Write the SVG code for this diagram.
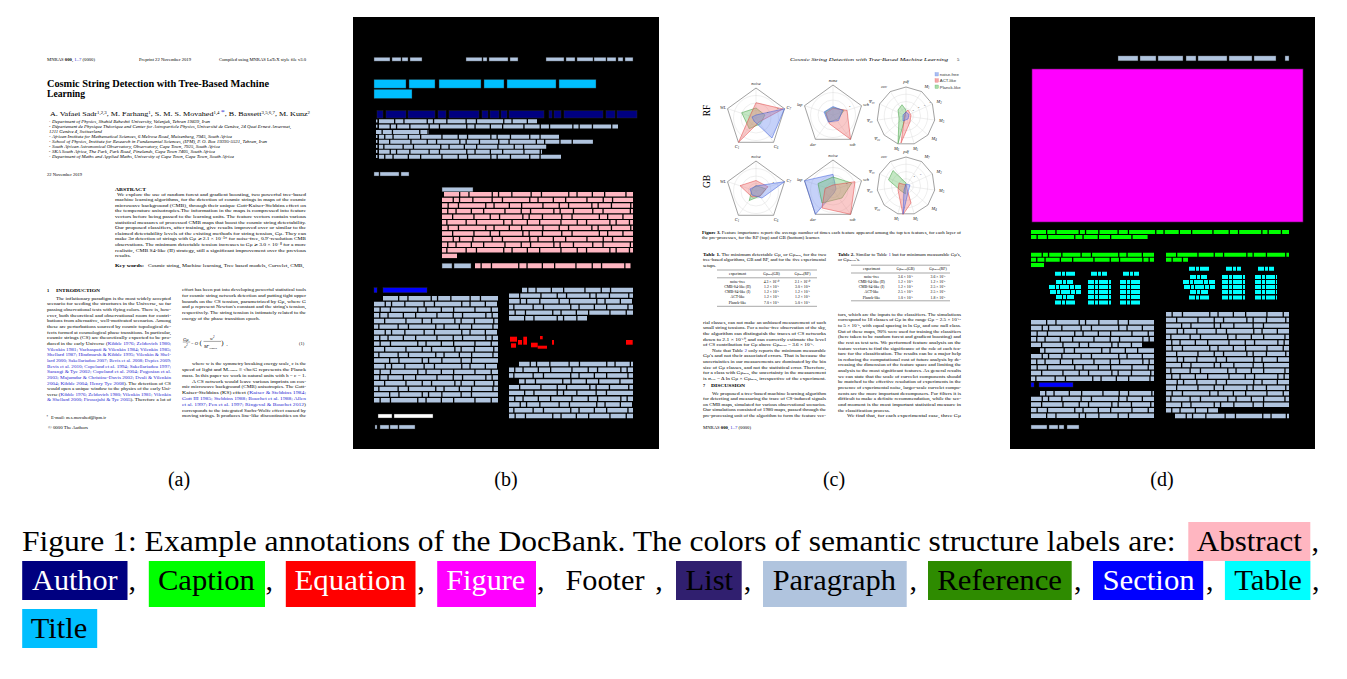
<svg xmlns="http://www.w3.org/2000/svg" width="1347" height="679" viewBox="0 0 1347 679">
<defs>
<style>
.s{font-family:"Liberation Serif","Times New Roman",serif;fill:#000}
.ss{font-family:"Liberation Sans",Arial,sans-serif;fill:#333}
.b{font-weight:bold}
.i{font-style:italic}
.lk{fill:#2525d0}
.t{font-size:4.4px}
.af{font-size:3.6px;font-style:italic}
.ct{font-size:4.2px}
.tb{font-size:3.8px;text-anchor:middle}
.ax{font-size:4.4px;font-style:italic;fill:#222}
.tk{font-size:2.8px;fill:#555}
.bar{fill:none;stroke-width:4.4;stroke-dasharray:15 1.3 8 1.3 22 1.3 5 1.3 12 1.3 18 1.3 9 1.3 26 1.3 7 1.3 14 1.3 11 1.3 20 1.3}
.P{stroke:#B0C4DE}.K{stroke:#FFB6C1}.G{stroke:#00FF00}.C{stroke:#00FFFF}
.o1{stroke-dashoffset:37}.o2{stroke-dashoffset:81}.o3{stroke-dashoffset:119}.o4{stroke-dashoffset:150}.o5{stroke-dashoffset:63}
.ol{stroke:#2a2a2a;stroke-width:.4}
.grid{fill:none;stroke:#d2d2d2;stroke-width:.35}
.frame{fill:none;stroke:#555;stroke-width:.55}
.nf{fill:#6f8cf0;fill-opacity:.4;stroke:#3b5bdb;stroke-width:.5}
.ac{fill:#f07878;fill-opacity:.4;stroke:#e04040;stroke-width:.5}
.pl{fill:#6cc36c;fill-opacity:.4;stroke:#3a9a3a;stroke-width:.5}
.cap{font-family:"Liberation Serif","Times New Roman",serif;font-size:30px;fill:#000}
.w{fill:#fff}
.lbl{font-family:"Liberation Serif","Times New Roman",serif;font-size:20px;text-anchor:middle;fill:#000}
.rule{stroke:#000;stroke-width:.35}
</style>
</defs>
<rect width="1347" height="679" fill="#fff"/>

<!-- ============ PANEL A : original page 1 ============ -->
<g id="panel-a" class="s">
<text class="t" x="47" y="61.2" font-size="4.3" textLength="48" lengthAdjust="spacingAndGlyphs">MNRAS <tspan class="b">000</tspan>, <tspan class="lk">1–7</tspan> (0000)</text>
<text class="t" x="139" y="61.2" textLength="52" lengthAdjust="spacingAndGlyphs">Preprint 22 November 2019</text>
<text class="t" x="219" y="61.2" textLength="87" lengthAdjust="spacingAndGlyphs">Compiled using MNRAS LaTeX style file v3.0</text>
<text class="b" x="47" y="86.5" font-size="10" textLength="222" lengthAdjust="spacingAndGlyphs">Cosmic String Detection with Tree-Based Machine</text>
<text class="b" x="47" y="96.8" font-size="10" textLength="38" lengthAdjust="spacingAndGlyphs">Learning</text>
<text x="50" y="116.3" font-size="6.6" textLength="260" lengthAdjust="spacingAndGlyphs">A. Vafaei Sadr<tspan font-size="4" dy="-2.2">1,2,3</tspan><tspan dy="2.2">, M. Farhang</tspan><tspan font-size="4" dy="-2.2">1</tspan><tspan dy="2.2">, S. M. S. Movahed</tspan><tspan font-size="4" dy="-2.2">1,4 </tspan><tspan class="lk" dy="0">*</tspan><tspan dy="2.2">, B. Bassett</tspan><tspan font-size="4" dy="-2.2">3,5,6,7</tspan><tspan dy="2.2">, M. Kunz</tspan><tspan font-size="4" dy="-2.2">2</tspan></text>
<g class="af">
<text x="49" y="121.6" font-size="2.6">1</text><text x="52" y="122.6" textLength="158" lengthAdjust="spacingAndGlyphs">Department of Physics, Shahid Beheshti University, Velenjak, Tehran 19839, Iran</text>
<text x="49" y="126.8" font-size="2.6">2</text><text x="52" y="127.8" textLength="239" lengthAdjust="spacingAndGlyphs">Département de Physique Théorique and Center for Astroparticle Physics, Université de Genève, 24 Quai Ernest Ansermet,</text>
<text x="49" y="133.3" textLength="53" lengthAdjust="spacingAndGlyphs">1211 Genève 4, Switzerland</text>
<text x="49" y="137.2" font-size="2.6">3</text><text x="52" y="138.2" textLength="180" lengthAdjust="spacingAndGlyphs">African Institute for Mathematical Sciences, 6 Melrose Road, Muizenberg, 7945, South Africa</text>
<text x="49" y="142" font-size="2.6">4</text><text x="52" y="143" textLength="215" lengthAdjust="spacingAndGlyphs">School of Physics, Institute for Research in Fundamental Sciences, (IPM), P. O. Box 19395-5531, Tehran, Iran</text>
<text x="49" y="147" font-size="2.6">5</text><text x="52" y="148" textLength="168" lengthAdjust="spacingAndGlyphs">South African Astronomical Observatory, Observatory, Cape Town, 7925, South Africa</text>
<text x="49" y="152" font-size="2.6">6</text><text x="52" y="153" textLength="163" lengthAdjust="spacingAndGlyphs">SKA South Africa, The Park, Park Road, Pinelands, Cape Town 7405, South Africa</text>
<text x="49" y="157.2" font-size="2.6">7</text><text x="52" y="158.2" textLength="182" lengthAdjust="spacingAndGlyphs">Department of Maths and Applied Maths, University of Cape Town, Cape Town, South Africa</text>
</g>
<text class="t" x="47" y="176" textLength="35" lengthAdjust="spacingAndGlyphs">22 November 2019</text>
<text class="t b" x="115" y="191.4" textLength="31" lengthAdjust="spacingAndGlyphs">ABSTRACT</text>
<g class="t">
<text x="117" y="195.6" textLength="189" lengthAdjust="spacingAndGlyphs">We explore the use of random forest and gradient boosting, two powerful tree-based</text>
<text x="115" y="201.2" textLength="191" lengthAdjust="spacingAndGlyphs">machine learning algorithms, for the detection of cosmic strings in maps of the cosmic</text>
<text x="115" y="206.8" textLength="191" lengthAdjust="spacingAndGlyphs">microwave background (CMB), through their unique Gott-Kaiser-Stebbins effect on</text>
<text x="115" y="212.4" textLength="191" lengthAdjust="spacingAndGlyphs">the temperature anisotropies.The information in the maps is compressed into feature</text>
<text x="115" y="218" textLength="191" lengthAdjust="spacingAndGlyphs">vectors before being passed to the learning units. The feature vectors contain various</text>
<text x="115" y="223.6" textLength="191" lengthAdjust="spacingAndGlyphs">statistical measures of processed CMB maps that boost the cosmic string detectability.</text>
<text x="115" y="229.2" textLength="191" lengthAdjust="spacingAndGlyphs">Our proposed classifiers, after training, give results improved over or similar to the</text>
<text x="115" y="234.8" textLength="191" lengthAdjust="spacingAndGlyphs">claimed detectability levels of the existing methods for string tension, Gμ. They can</text>
<text x="115" y="240.4" textLength="191" lengthAdjust="spacingAndGlyphs">make 3σ detection of strings with Gμ ≳ 2.1 × 10⁻¹⁰ for noise-free, 0.9′-resolution CMB</text>
<text x="115" y="246" textLength="191" lengthAdjust="spacingAndGlyphs">observations. The minimum detectable tension increases to Gμ ≳ 3.0 × 10⁻⁸ for a more</text>
<text x="115" y="251.6" textLength="191" lengthAdjust="spacingAndGlyphs">realistic, CMB S4-like (II) strategy, still a significant improvement over the previous</text>
<text x="115" y="257.2" textLength="16" lengthAdjust="spacingAndGlyphs">results.</text>
</g>
<text class="t b" x="115" y="267.3" textLength="29" lengthAdjust="spacingAndGlyphs">Key words:</text>
<text class="t" x="148" y="267.3" textLength="156" lengthAdjust="spacingAndGlyphs">Cosmic string, Machine learning, Tree based models, Curvelet, CMB,</text>
<text class="t b" x="47" y="292.2">1</text>
<text class="t b" x="56" y="292.2" textLength="44" lengthAdjust="spacingAndGlyphs">INTRODUCTION</text>
<g class="t">
<text x="56" y="299.6" textLength="115" lengthAdjust="spacingAndGlyphs">The inflationary paradigm is the most widely accepted</text>
<text x="47" y="305.26" textLength="124" lengthAdjust="spacingAndGlyphs">scenario for seeding the structures in the Universe, so far</text>
<text x="47" y="310.92" textLength="124" lengthAdjust="spacingAndGlyphs">passing observational tests with flying colors. There is, how-</text>
<text x="47" y="316.58" textLength="124" lengthAdjust="spacingAndGlyphs">ever, both theoretical and observational room for contri-</text>
<text x="47" y="322.24" textLength="124" lengthAdjust="spacingAndGlyphs">butions from alternative, well-motivated scenarios. Among</text>
<text x="47" y="327.9" textLength="124" lengthAdjust="spacingAndGlyphs">these are perturbations sourced by cosmic topological de-</text>
<text x="47" y="333.56" textLength="124" lengthAdjust="spacingAndGlyphs">fects formed at cosmological phase transitions. In particular,</text>
<text x="47" y="339.22" textLength="124" lengthAdjust="spacingAndGlyphs">cosmic strings (CS) are theoretically expected to be pro-</text>
<text x="47" y="344.88" textLength="124" lengthAdjust="spacingAndGlyphs">duced in the early Universe (<tspan class="lk">Kibble 1976; Zeldovich 1980;</tspan></text>
<text class="lk" x="47" y="350.54" textLength="124" lengthAdjust="spacingAndGlyphs">Vilenkin 1981; Vachaspati &amp; Vilenkin 1984; Vilenkin 1985;</text>
<text class="lk" x="47" y="356.2" textLength="124" lengthAdjust="spacingAndGlyphs">Shellard 1987; Hindmarsh &amp; Kibble 1995; Vilenkin &amp; Shel-</text>
<text class="lk" x="47" y="361.86" textLength="124" lengthAdjust="spacingAndGlyphs">lard 2000; Sakellariadou 2007; Bevis et al. 2008; Depies 2009;</text>
<text class="lk" x="47" y="367.52" textLength="124" lengthAdjust="spacingAndGlyphs">Bevis et al. 2010; Copeland et al. 1994; Sakellariadou 1997;</text>
<text class="lk" x="47" y="373.18" textLength="124" lengthAdjust="spacingAndGlyphs">Sarangi &amp; Tye 2002; Copeland et al. 2004; Pogosian et al.</text>
<text class="lk" x="47" y="378.84" textLength="124" lengthAdjust="spacingAndGlyphs">2003; Majumdar &amp; Christine-Davis 2002; Dvali &amp; Vilenkin</text>
<text x="47" y="384.5" textLength="124" lengthAdjust="spacingAndGlyphs"><tspan class="lk">2004; Kibble 2004; Henry Tye 2008</tspan>). The detection of CS</text>
<text x="47" y="390.16" textLength="124" lengthAdjust="spacingAndGlyphs">would open a unique window to the physics of the early Uni-</text>
<text x="47" y="395.82" textLength="124" lengthAdjust="spacingAndGlyphs">verse (<tspan class="lk">Kibble 1976; Zeldovich 1980; Vilenkin 1981; Vilenkin</tspan></text>
<text x="47" y="401.48" textLength="124" lengthAdjust="spacingAndGlyphs"><tspan class="lk">&amp; Shellard 2000; Firouzjahi &amp; Tye 2005</tspan>). Therefore a lot of</text>
</g>
<g class="t">
<text x="182" y="291.3" textLength="124" lengthAdjust="spacingAndGlyphs">effort has been put into developing powerful statistical tools</text>
<text x="182" y="296.96" textLength="124" lengthAdjust="spacingAndGlyphs">for cosmic string network detection and putting tight upper</text>
<text x="182" y="302.62" textLength="124" lengthAdjust="spacingAndGlyphs">bounds on the CS tension, parametrized by Gμ, where G</text>
<text x="182" y="308.28" textLength="124" lengthAdjust="spacingAndGlyphs">and μ represent Newton's constant and the string's tension,</text>
<text x="182" y="313.94" textLength="124" lengthAdjust="spacingAndGlyphs">respectively. The string tension is intimately related to the</text>
<text x="182" y="319.6" textLength="78" lengthAdjust="spacingAndGlyphs">energy of the phase transition epoch.</text>
</g>
<g id="equation-1">
<text class="i" x="183" y="340.6" font-size="4.5">Gμ</text>
<line x1="182.8" y1="342" x2="190.2" y2="342" stroke="#000" stroke-width=".35"/>
<text class="i" x="184.3" y="347.5" font-size="4.5">c<tspan font-size="3" dy="-1.6">2</tspan></text>
<text x="191" y="344.5" font-size="4.5">= <tspan class="i">O</tspan></text>
<text x="199.5" y="345" font-size="7">(</text>
<text class="i" x="210" y="339.8" font-size="4.5">w<tspan font-size="3" dy="-1.6">2</tspan></text>
<line x1="203.5" y1="341.4" x2="221" y2="341.4" stroke="#000" stroke-width=".35"/>
<text class="i" x="204" y="347.6" font-size="4.5">M<tspan font-size="2.8" dy="-1.8">2</tspan><tspan font-size="2.8" dy="2.8">Planck</tspan></text>
<text x="221.3" y="345" font-size="7">)</text>
<text x="226.5" y="344.5" font-size="4.5">,</text>
<text x="299" y="344.5" font-size="4.5">(1)</text>
</g>
<g class="t">
<text x="192" y="365.3" textLength="114" lengthAdjust="spacingAndGlyphs">where w is the symmetry breaking energy scale, c is the</text>
<text x="182" y="371.1" textLength="124" lengthAdjust="spacingAndGlyphs">speed of light and M<tspan font-size="2.8">Planck</tspan> ≡ √ħc/G represents the Planck</text>
<text x="182" y="376.9" textLength="124" lengthAdjust="spacingAndGlyphs">mass. In this paper we work in natural units with ħ = c = 1.</text>
<text x="192" y="382.6" textLength="114" lengthAdjust="spacingAndGlyphs">A CS network would leave various imprints on cos-</text>
<text x="182" y="388.4" textLength="124" lengthAdjust="spacingAndGlyphs">mic microwave background (CMB) anisotropies. The Gott-</text>
<text x="182" y="394.2" textLength="124" lengthAdjust="spacingAndGlyphs">Kaiser-Stebbins (KS) effect (<tspan class="lk">Kaiser &amp; Stebbins 1984;</tspan></text>
<text class="lk" x="182" y="400" textLength="124" lengthAdjust="spacingAndGlyphs">Gott III 1985; Stebbins 1988; Bouchet et al. 1988; Allen</text>
<text x="182" y="405.8" textLength="124" lengthAdjust="spacingAndGlyphs"><tspan class="lk">et al. 1997; Pen et al. 1997; Ringeval &amp; Bouchet 2012</tspan>)</text>
<text x="182" y="411.5" textLength="124" lengthAdjust="spacingAndGlyphs">corresponds to the integrated Sachs-Wolfe effect caused by</text>
<text x="182" y="417.3" textLength="124" lengthAdjust="spacingAndGlyphs">moving strings. It produces line-like discontinuities on the</text>
</g>
<text x="46.5" y="417.5" font-size="3.2">*</text>
<text class="t" x="51" y="418.5" textLength="55" lengthAdjust="spacingAndGlyphs">E-mail: m.s.movahed@ipm.ir</text>
<text class="t" x="48" y="429" textLength="40" lengthAdjust="spacingAndGlyphs">© 0000 The Authors</text>
</g>

<!-- ============ PANEL B : annotation of page 1 ============ -->
<g id="panel-b">
<rect x="353" y="17" width="306" height="432" fill="#000"/>
<g fill="#B0C4DE" class="ol">
<rect x="374" y="57.3" width="16" height="3.8"/><rect x="392" y="57.3" width="9" height="3.8"/><rect x="402" y="57.3" width="6" height="3.8"/><rect x="410" y="57.3" width="12" height="3.8"/>
<rect x="466" y="57.3" width="16" height="3.8"/><rect x="483" y="57.3" width="4" height="3.8"/><rect x="489" y="57.3" width="19" height="3.8"/><rect x="510" y="57.3" width="8" height="3.8"/>
<rect x="546" y="57.3" width="18" height="3.8"/><rect x="566" y="57.3" width="9" height="3.8"/><rect x="577" y="57.3" width="16" height="3.8"/><rect x="594" y="57.3" width="12" height="3.8"/><rect x="607" y="57.3" width="9" height="3.8"/><rect x="618" y="57.3" width="5" height="3.8"/><rect x="625" y="57.3" width="8" height="3.8"/>
</g>
<g fill="#00BFFF" class="ol">
<rect x="374" y="79.5" width="32" height="8.6"/><rect x="409" y="79.5" width="26" height="8.6"/><rect x="439" y="79.5" width="42" height="8.6"/><rect x="484" y="79.5" width="20" height="8.6"/><rect x="507" y="79.5" width="49" height="8.6"/><rect x="559" y="79.5" width="37" height="8.6"/>
<rect x="374" y="89.3" width="38" height="9.2"/>
</g>
<g fill="#000080" class="ol">
<rect x="377" y="110.7" width="6" height="7.3"/><rect x="386" y="110.7" width="20" height="7.3"/><rect x="408" y="110.7" width="27" height="7.3"/><rect x="438" y="110.7" width="8" height="7.3"/><rect x="449" y="110.7" width="30" height="7.3"/><rect x="482" y="110.7" width="6" height="7.3"/><rect x="490" y="110.7" width="9" height="7.3"/><rect x="501" y="110.7" width="6" height="7.3"/><rect x="509" y="110.7" width="35" height="7.3"/><rect x="549" y="110.7" width="3" height="7.3"/><rect x="554" y="110.7" width="7" height="7.3"/><rect x="564" y="110.7" width="39" height="7.3"/><rect x="606" y="110.7" width="9" height="7.3"/><rect x="617" y="110.7" width="20" height="7.3"/>
</g>
<g fill="#B0C4DE">
<rect x="376" y="119.5" width="1.4" height="3"/><rect x="376" y="124.7" width="1.4" height="3"/><rect x="376" y="135" width="1.4" height="3"/><rect x="376" y="139.9" width="1.4" height="3"/><rect x="376" y="144.9" width="1.4" height="3"/><rect x="376" y="149.9" width="1.4" height="3"/><rect x="376" y="155" width="1.4" height="3"/>
</g>
<g class="bar P" style="stroke-width:4">
<path d="M379 121.3H537"/><path class="o1" d="M379 126.5H618"/><path class="o2" d="M376 132H429"/><path class="o3" d="M379 136.8H559"/><path class="o4" d="M379 141.7H594"/><path class="o5" d="M379 146.7H547"/><path class="o1" d="M379 151.7H542"/><path class="o3" d="M379 156.8H561"/>
</g>
<g fill="#B0C4DE" class="ol">
<rect x="374" y="172" width="5" height="4"/><rect x="380" y="172" width="19" height="4"/><rect x="401" y="172" width="8" height="4"/>
<rect x="442" y="187.2" width="31" height="4.6"/>
<rect x="442" y="263.2" width="10" height="5"/><rect x="454" y="263.2" width="17" height="5"/>
</g>
<g class="bar K">
<path d="M444 194.3H633"/><path class="o1" d="M442 199.9H633"/><path class="o2" d="M442 205.5H633"/><path class="o3" d="M442 211.1H633"/><path class="o4" d="M442 216.7H633"/><path class="o5" d="M442 222.3H633"/><path class="o2" d="M442 227.9H633"/><path class="o4" d="M442 233.5H633"/><path class="o1" d="M442 239.1H633"/><path class="o3" d="M442 244.7H633"/><path class="o5" d="M442 250.3H633"/><path d="M442 255.9H458"/>
<path class="o2" style="stroke-width:5" d="M475 265.7H631"/>
</g>
<g fill="#0000FF" class="ol"><rect x="374" y="287.7" width="3" height="5"/><rect x="383" y="287.7" width="44" height="5"/></g>
<g class="bar P">
<path d="M383 298.3H498"/><path class="o1" d="M374 303.96H498"/><path class="o2" d="M374 309.62H498"/><path class="o3" d="M374 315.28H498"/><path class="o4" d="M374 320.94H498"/><path class="o5" d="M374 326.6H498"/><path class="o1" d="M374 332.26H498"/><path class="o3" d="M374 337.92H498"/><path class="o2" d="M374 343.58H498"/><path class="o4" d="M374 349.24H498"/><path class="o5" d="M374 354.9H498"/><path d="M374 360.56H498"/><path class="o1" d="M374 366.22H498"/><path class="o2" d="M374 371.88H498"/><path class="o3" d="M374 377.54H498"/><path class="o4" d="M374 383.2H498"/><path class="o5" d="M374 388.86H498"/><path d="M374 394.52H498"/><path class="o2" d="M374 400.18H498"/>
<path class="o3" d="M522 290H633"/><path class="o4" d="M509 295.66H633"/><path class="o1" d="M509 301.32H633"/><path class="o5" d="M509 306.98H633"/><path class="o2" d="M509 312.64H633"/><path d="M509 318.3H587"/>
<path class="o1" d="M519 364H633"/><path class="o3" d="M509 369.78H633"/><path class="o5" d="M509 375.56H633"/><path class="o2" d="M519 381.34H633"/><path class="o4" d="M509 387.12H633"/><path d="M509 392.9H633"/><path class="o3" d="M509 398.68H633"/><path class="o1" d="M509 404.46H633"/><path class="o5" d="M509 410.24H633"/><path class="o2" d="M509 416.02H633"/>
</g>
<g fill="#FF0000">
<rect x="510" y="336.7" width="7" height="5"/><rect x="511" y="343.3" width="5" height="4.4"/><rect x="518" y="340" width="4" height="4.7"/><rect x="523.3" y="336.7" width="3.7" height="8"/><rect x="531" y="342.7" width="6.7" height="4.6"/><rect x="537.7" y="345.7" width="9.3" height="3"/><rect x="540" y="336" width="2.7" height="3.3"/><rect x="552" y="340" width="2" height="4.7"/><rect x="626" y="340" width="6.7" height="4.7"/>
</g>
<g fill="#fff" class="ol"><rect x="378" y="414" width="14" height="4"/><rect x="394" y="414" width="39" height="4"/></g>
<g fill="#B0C4DE" class="ol"><rect x="375" y="425" width="2" height="4"/><rect x="380" y="425" width="9" height="4"/><rect x="390" y="425" width="8" height="4"/><rect x="399" y="425" width="16" height="4"/></g>
</g>

<!-- ============ PANEL C : original page 5 ============ -->
<g id="panel-c" class="s">
<text class="i" x="790" y="60.8" font-size="4.6" textLength="158" lengthAdjust="spacingAndGlyphs">Cosmic String Detection with Tree-Based Machine Learning</text>
<text x="957" y="60.8" font-size="4.6">5</text>
<text x="713" y="113.5" font-size="9.5" text-anchor="middle" transform="rotate(-90 710 113.5)">RF</text>
<text x="713" y="184.5" font-size="9.5" text-anchor="middle" transform="rotate(-90 710 184.5)">GB</text>

<g id="chart-rf-1">
<circle class="grid" cx="756" cy="118" r="7.5"/><circle class="grid" cx="756" cy="118" r="15"/><circle class="grid" cx="756" cy="118" r="22.5"/>
<path class="grid" d="M756 118V88M756 118L784.5 108.7M756 118L773.6 142.3M756 118L738.4 142.3M756 118L727.5 108.7"/>
<polygon class="frame" points="756,88 784.5,108.7 773.6,142.3 738.4,142.3 727.5,108.7"/>
<polygon class="pl" points="756,108 765,115 760,124 749.3,128.7 741.7,112.7"/>
<polygon class="ac" points="756,102.7 783,109 759,122 738.5,142.3 750,116"/>
<polygon class="nf" points="756,115 784.5,108.7 772,138 754,121 752,117"/>
<text class="tk" x="767" y="113">2</text><text class="tk" x="777" y="109">4</text>
<g class="ax"><text x="756" y="84.5" text-anchor="middle">noise</text><text x="726" y="109" text-anchor="end">WL</text><text x="786.5" y="108.5">C<tspan font-size="3" dy="1">7</tspan></text><text x="737" y="147.5" text-anchor="middle">C<tspan font-size="3" dy="1">1</tspan></text><text x="776" y="147.5" text-anchor="middle">C<tspan font-size="3" dy="1">6</tspan></text></g>
</g>
<g id="chart-rf-2">
<circle class="grid" cx="833" cy="115" r="7.5"/><circle class="grid" cx="833" cy="115" r="15"/><circle class="grid" cx="833" cy="115" r="22.5"/>
<path class="grid" d="M833 115V85M833 115L861.5 105.7M833 115L850.6 139.3M833 115L815.4 139.3M833 115L804.5 105.7"/>
<polygon class="frame" points="833,85 861.5,105.7 850.6,139.3 815.4,139.3 804.5,105.7"/>
<polygon class="pl" points="833,107.5 844,110.3 838,119 829,122 825,112"/>
<polygon class="ac" points="833,108.3 847,110.3 850.6,139.3 829.3,123.7 826,113"/>
<polygon class="nf" points="833,106.5 842.7,110.3 838.5,120.5 828.3,122 824,112"/>
<text class="tk" x="849" y="107">4</text>
<g class="ax"><text x="833" y="81.5" text-anchor="middle">none</text><text x="802.5" y="106" text-anchor="end">lap</text><text x="863" y="106">sch</text><text x="813" y="145.5" text-anchor="middle">der</text><text x="852.5" y="145.5" text-anchor="middle">sob</text></g>
</g>
<g id="chart-rf-3">
<circle class="grid" cx="906" cy="116" r="7.3"/><circle class="grid" cx="906" cy="116" r="14.5"/><circle class="grid" cx="906" cy="116" r="21.8"/>
<path class="grid" d="M906 116V87M906 116L921.7 91.6M906 116L932.4 104M906 116L934.7 120.1M906 116L927.9 135M906 116L914.2 143.8M906 116L897.8 143.8M906 116L884.1 135M906 116L877.3 120.1M906 116L879.6 104M906 116L890.3 91.6"/>
<polygon class="frame" points="906,87 921.7,91.6 932.4,104 934.7,120.1 927.9,135 914.2,143.8 897.8,143.8 884.1,135 877.3,120.1 879.6,104 890.3,91.6"/>
<polygon class="pl" points="902,104.7 906,110 905,118 898,143.5 899,118 898,110"/>
<polygon class="ac" points="908,110 911,115 910,122 901,143 904,121 905,113"/>
<polygon class="nf" points="906,112 909,114.5 908,119 903,121 903,115"/>
<text class="tk" x="912.5" y="110.5">2</text><text class="tk" x="918" y="108">4</text><text class="tk" x="924" y="105.5">6</text><text class="tk" x="929.5" y="103">8</text>
<g class="ax"><text x="906" y="83" text-anchor="middle">pdf</text><text x="924.4" y="88">M<tspan font-size="3" dy="1">1</tspan></text><text x="936.5" y="102.5">M<tspan font-size="3" dy="1">2</tspan></text><text x="939" y="122">M<tspan font-size="3" dy="1">3</tspan></text><text x="931.5" y="139.5">M<tspan font-size="3" dy="1">4</tspan></text><text x="915.5" y="150" text-anchor="middle">M<tspan font-size="3" dy="1">5</tspan></text><text x="896.5" y="150" text-anchor="middle">M<tspan font-size="3" dy="1">6</tspan></text><text x="880" y="139.5" text-anchor="end">Ψ<tspan font-size="3" dy="1">cc</tspan></text><text x="872.5" y="122" text-anchor="end">Ψ<tspan font-size="3" dy="1">cv</tspan></text><text x="874.5" y="102.5" text-anchor="end">Ψ<tspan font-size="3" dy="1">vv</tspan></text><text x="887" y="88" text-anchor="end">cov</text></g>
</g>
<g id="chart-gb-1">
<circle class="grid" cx="756" cy="191" r="7.5"/><circle class="grid" cx="756" cy="191" r="15"/><circle class="grid" cx="756" cy="191" r="22.5"/>
<path class="grid" d="M756 191V161M756 191L784.5 181.7M756 191L773.6 215.3M756 191L738.4 215.3M756 191L727.5 181.7"/>
<polygon class="frame" points="756,161 784.5,181.7 773.6,215.3 738.4,215.3 727.5,181.7"/>
<polygon class="pl" points="756,185.5 766,189 760,196 749.3,200.5 752,189"/>
<polygon class="ac" points="756,180.5 768,186.7 760,196 752,197 740,185.7"/>
<polygon class="nf" points="756,186 784.5,181.7 762,198 752,195 750,189"/>
<text class="tk" x="772.5" y="183">4</text>
<g class="ax"><text x="756" y="158" text-anchor="middle">noise</text><text x="726" y="183" text-anchor="end">WL</text><text x="786.5" y="182">C<tspan font-size="3" dy="1">7</tspan></text><text x="737" y="221" text-anchor="middle">C<tspan font-size="3" dy="1">1</tspan></text><text x="776" y="221" text-anchor="middle">C<tspan font-size="3" dy="1">6</tspan></text></g>
</g>
<g id="chart-gb-2">
<circle class="grid" cx="833" cy="190" r="7.5"/><circle class="grid" cx="833" cy="190" r="15"/><circle class="grid" cx="833" cy="190" r="22.5"/>
<path class="grid" d="M833 190V160M833 190L861.5 180.7M833 190L850.6 214.3M833 190L815.4 214.3M833 190L804.5 180.7"/>
<polygon class="frame" points="833,160 861.5,180.7 850.6,214.3 815.4,214.3 804.5,180.7"/>
<polygon class="nf" points="833,174.3 836,189 834,193 815.4,214.3 804.5,180.7"/>
<polygon class="pl" points="833,177 851.7,183 842,198 822,203 818,183.5"/>
<polygon class="ac" points="833,185 855,181.7 850.6,214.3 822,208 825,188.5"/>
<text class="tk" x="846" y="183.5">2</text>
<g class="ax"><text x="833" y="157" text-anchor="middle">noise</text><text x="802.5" y="181" text-anchor="end">lap</text><text x="863" y="181">sch</text><text x="813" y="220.5" text-anchor="middle">der</text><text x="852.5" y="220.5" text-anchor="middle">sob</text></g>
</g>
<g id="chart-gb-3">
<circle class="grid" cx="906" cy="186" r="7.3"/><circle class="grid" cx="906" cy="186" r="14.5"/><circle class="grid" cx="906" cy="186" r="21.8"/>
<path class="grid" d="M906 186V157M906 186L921.7 161.6M906 186L932.4 174M906 186L934.7 190.1M906 186L927.9 205M906 186L914.2 213.8M906 186L897.8 213.8M906 186L884.1 205M906 186L877.3 190.1M906 186L879.6 174M906 186L890.3 161.6"/>
<polygon class="frame" points="906,157 921.7,161.6 932.4,174 934.7,190.1 927.9,205 914.2,213.8 897.8,213.8 884.1,205 877.3,190.1 879.6,174 890.3,161.6"/>
<polygon class="pl" points="906,183 893,170.5 888.5,180 900,190 905.5,194"/>
<polygon class="ac" points="899,183 906,185 911,203 903,214.5 898,190"/>
<polygon class="nf" points="906,184 910,185 908,192 903,214 904,190"/>
<text class="tk" x="913.5" y="177">4</text><text class="tk" x="920" y="174.5">6</text>
<g class="ax"><text x="906" y="153" text-anchor="middle">pdf</text><text x="924.4" y="158">M<tspan font-size="3" dy="1">7</tspan></text><text x="936.5" y="172.5">M<tspan font-size="3" dy="1">2</tspan></text><text x="939" y="192">M<tspan font-size="3" dy="1">3</tspan></text><text x="931.5" y="209.5">M<tspan font-size="3" dy="1">4</tspan></text><text x="915.5" y="220" text-anchor="middle">M<tspan font-size="3" dy="1">5</tspan></text><text x="896.5" y="220" text-anchor="middle">M<tspan font-size="3" dy="1">1</tspan></text><text x="880" y="209.5" text-anchor="end">Ψ<tspan font-size="3" dy="1">cc</tspan></text><text x="872.5" y="192" text-anchor="end">Ψ<tspan font-size="3" dy="1">cv</tspan></text><text x="874.5" y="172.5" text-anchor="end">Ψ<tspan font-size="3" dy="1">vv</tspan></text><text x="887" y="158" text-anchor="end">cov</text></g>
</g>
<g id="legend">
<rect x="935" y="72.6" width="3.4" height="3.4" fill="#a9bdf2" stroke="#6f8ce0" stroke-width=".3"/>
<rect x="935" y="78.8" width="3.4" height="3.4" fill="#f4a6a6" stroke="#e06060" stroke-width=".3"/>
<rect x="935" y="85" width="3.4" height="3.4" fill="#a8dca8" stroke="#55aa55" stroke-width=".3"/>
<text class="ss" x="939.8" y="76.2" font-size="4.3">noise-free</text>
<text class="ss" x="939.8" y="82.4" font-size="4.3">ACT-like</text>
<text class="ss" x="939.8" y="88.6" font-size="4.3">Planck-like</text>
</g>

<text class="ct" x="702" y="233.5" textLength="259" lengthAdjust="spacingAndGlyphs"><tspan class="b">Figure 3.</tspan> Feature importance report: the average number of times each feature appeared among the top ten features, for each layer of</text>
<text class="ct" x="702" y="238.7" textLength="118" lengthAdjust="spacingAndGlyphs">the pre-processes, for the RF (top) and GB (bottom) learner.</text>
<text class="ct" x="703" y="256.3" textLength="123" lengthAdjust="spacingAndGlyphs"><tspan class="b">Table 1.</tspan> The minimum detectable Gμ, or Gμ<tspan font-size="2.8">min</tspan>, for the two</text>
<text class="ct" x="703" y="261.4" textLength="123" lengthAdjust="spacingAndGlyphs">tree-based algorithms, GB and RF, and for the five experimental</text>
<text class="ct" x="703" y="266.6" textLength="13" lengthAdjust="spacingAndGlyphs">setups.</text>
<text class="ct" x="838" y="256.3" textLength="123" lengthAdjust="spacingAndGlyphs"><tspan class="b">Table 2.</tspan> Similar to Table <tspan class="lk">1</tspan> but for minimum measurable Gμ's,</text>
<text class="ct" x="838" y="261.4" textLength="22" lengthAdjust="spacingAndGlyphs">or Gμ<tspan font-size="2.8">meas</tspan>'s.</text>

<g id="table-1">
<line class="rule" x1="717" y1="270" x2="817" y2="270"/><line class="rule" x1="717" y1="277.8" x2="817" y2="277.8"/><line class="rule" x1="717" y1="306.3" x2="817" y2="306.3"/>
<g class="tb">
<text x="737.5" y="275.1">experiment</text><text x="771.5" y="275.1">Gμ<tspan font-size="2.6">min</tspan>(GB)</text><text x="802.5" y="275.1">Gμ<tspan font-size="2.6">min</tspan>(RF)</text>
<text x="737.5" y="283.3">noise-free</text><text x="771.5" y="283.3">4.3 × 10⁻¹⁰</text><text x="802.5" y="283.3">2.1 × 10⁻¹⁰</text>
<text x="737.5" y="288.3">CMB-S4-like (II)</text><text x="771.5" y="288.3">1.2 × 10⁻⁷</text><text x="802.5" y="288.3">3.0 × 10⁻⁸</text>
<text x="737.5" y="293.3">CMB-S4-like (I)</text><text x="771.5" y="293.3">1.2 × 10⁻⁷</text><text x="802.5" y="293.3">1.2 × 10⁻⁷</text>
<text x="737.5" y="298.3">ACT-like</text><text x="771.5" y="298.3">1.2 × 10⁻⁷</text><text x="802.5" y="298.3">1.2 × 10⁻⁷</text>
<text x="737.5" y="303.6">Planck-like</text><text x="771.5" y="303.6">7.0 × 10⁻⁷</text><text x="802.5" y="303.6">5.0 × 10⁻⁷</text>
</g>
</g>
<g id="table-2">
<line class="rule" x1="851" y1="265.2" x2="950" y2="265.2"/><line class="rule" x1="851" y1="273" x2="950" y2="273"/><line class="rule" x1="851" y1="300.8" x2="950" y2="300.8"/>
<g class="tb">
<text x="871.5" y="270">experiment</text><text x="905.5" y="270">Gμ<tspan font-size="2.6">meas</tspan>(GB)</text><text x="938" y="270">Gμ<tspan font-size="2.6">meas</tspan>(RF)</text>
<text x="871.5" y="278.3">noise-free</text><text x="905.5" y="278.3">3.6 × 10⁻⁹</text><text x="938" y="278.3">3.6 × 10⁻⁹</text>
<text x="871.5" y="283.3">CMB-S4-like (II)</text><text x="905.5" y="283.3">1.2 × 10⁻⁷</text><text x="938" y="283.3">1.2 × 10⁻⁷</text>
<text x="871.5" y="288.3">CMB-S4-like (I)</text><text x="905.5" y="288.3">1.2 × 10⁻⁷</text><text x="938" y="288.3">2.5 × 10⁻⁷</text>
<text x="871.5" y="293.3">ACT-like</text><text x="905.5" y="293.3">2.5 × 10⁻⁷</text><text x="938" y="293.3">2.5 × 10⁻⁷</text>
<text x="871.5" y="298.6">Planck-like</text><text x="905.5" y="298.6">1.0 × 10⁻⁶</text><text x="938" y="298.6">1.8 × 10⁻⁶</text>
</g>
</g>

<g class="ct">
<text x="703" y="323.6" textLength="123" lengthAdjust="spacingAndGlyphs">rial classes, can not make an unbiased measurement of such</text>
<text x="703" y="329.24" textLength="123" lengthAdjust="spacingAndGlyphs">small string tensions. For a noise-free observation of the sky,</text>
<text x="703" y="334.88" textLength="123" lengthAdjust="spacingAndGlyphs">the algorithm can distinguish the traces of CS networks</text>
<text x="703" y="340.52" textLength="123" lengthAdjust="spacingAndGlyphs">down to 2.1 × 10⁻¹⁰, and can correctly estimate the level</text>
<text x="703" y="346.16" textLength="111" lengthAdjust="spacingAndGlyphs">of CS contribution for Gμ above Gμ<tspan font-size="2.8">meas</tspan> = 3.6 × 10⁻⁹.</text>
<text x="712" y="351.8" textLength="114" lengthAdjust="spacingAndGlyphs">Note that Table <tspan class="lk">2</tspan> only reports the minimum measurable</text>
<text x="703" y="357.44" textLength="123" lengthAdjust="spacingAndGlyphs">Gμ's and not their associated errors. That is because the</text>
<text x="703" y="363.08" textLength="123" lengthAdjust="spacingAndGlyphs">uncertainties in our measurements are dominated by the bin</text>
<text x="703" y="368.72" textLength="123" lengthAdjust="spacingAndGlyphs">size of Gμ classes, and not the statistical error. Therefore,</text>
<text x="703" y="374.36" textLength="123" lengthAdjust="spacingAndGlyphs">for a class with Gμ<tspan font-size="2.8">min</tspan>, the uncertainty in the measurement</text>
<text x="703" y="380" textLength="123" lengthAdjust="spacingAndGlyphs">is σ<tspan font-size="2.8">Gμ</tspan> = Δ ln Gμ × Gμ<tspan font-size="2.8">min</tspan>, irrespective of the experiment.</text>
<text class="b" x="703" y="386.5">7</text>
<text class="b" x="711" y="386.5" textLength="34" lengthAdjust="spacingAndGlyphs">DISCUSSION</text>
<text x="712" y="394.6" textLength="114" lengthAdjust="spacingAndGlyphs">We proposed a tree-based machine learning algorithm</text>
<text x="703" y="400.2" textLength="123" lengthAdjust="spacingAndGlyphs">for detecting and measuring the trace of CS-induced signals</text>
<text x="703" y="405.8" textLength="123" lengthAdjust="spacingAndGlyphs">on CMB maps, simulated for various observational scenarios.</text>
<text x="703" y="411.4" textLength="123" lengthAdjust="spacingAndGlyphs">Our simulations consisted of 1980 maps, passed through the</text>
<text x="703" y="417" textLength="123" lengthAdjust="spacingAndGlyphs">pre-processing unit of the algorithm to form the feature vec-</text>
<text x="703" y="429" textLength="48" lengthAdjust="spacingAndGlyphs">MNRAS <tspan class="b">000</tspan>, <tspan class="lk">1–7</tspan> (0000)</text>
</g>
<g class="ct">
<text x="838" y="315.6" textLength="123" lengthAdjust="spacingAndGlyphs">tors, which are the inputs to the classifiers. The simulations</text>
<text x="838" y="321.25" textLength="123" lengthAdjust="spacingAndGlyphs">correspond to 18 classes of Gμ in the range Gμ = 2.5 × 10⁻¹¹</text>
<text x="838" y="326.9" textLength="123" lengthAdjust="spacingAndGlyphs">to 5 × 10⁻⁷, with equal spacing in ln Gμ, and one null class.</text>
<text x="838" y="332.55" textLength="123" lengthAdjust="spacingAndGlyphs">Out of these maps, 90% were used for training the classifiers</text>
<text x="838" y="338.2" textLength="123" lengthAdjust="spacingAndGlyphs">(here taken to be random forest and gradient boosting) and</text>
<text x="838" y="343.85" textLength="123" lengthAdjust="spacingAndGlyphs">the rest as test sets. We performed feature analysis on the</text>
<text x="838" y="349.5" textLength="123" lengthAdjust="spacingAndGlyphs">feature vectors to find the significance of the role of each fea-</text>
<text x="838" y="355.15" textLength="123" lengthAdjust="spacingAndGlyphs">ture for the classification. The results can be a major help</text>
<text x="838" y="360.8" textLength="123" lengthAdjust="spacingAndGlyphs">in reducing the computational cost of future analysis by de-</text>
<text x="838" y="366.45" textLength="123" lengthAdjust="spacingAndGlyphs">creasing the dimension of the feature space and limiting the</text>
<text x="838" y="372.1" textLength="123" lengthAdjust="spacingAndGlyphs">analysis to the most significant features. As general results</text>
<text x="838" y="377.75" textLength="123" lengthAdjust="spacingAndGlyphs">we can state that the scale of curvelet components should</text>
<text x="838" y="383.4" textLength="123" lengthAdjust="spacingAndGlyphs">be matched to the effective resolution of experiments in the</text>
<text x="838" y="389.05" textLength="123" lengthAdjust="spacingAndGlyphs">presence of experimental noise, larger-scale curvelet compo-</text>
<text x="838" y="394.7" textLength="123" lengthAdjust="spacingAndGlyphs">nents are the more important decomposers. For filters it is</text>
<text x="838" y="400.35" textLength="123" lengthAdjust="spacingAndGlyphs">difficult to make a definite recommendation, while the sec-</text>
<text x="838" y="406" textLength="123" lengthAdjust="spacingAndGlyphs">ond moment is the most important statistical measure in</text>
<text x="838" y="411.65" textLength="52" lengthAdjust="spacingAndGlyphs">the classification process.</text>
<text x="847" y="417.3" textLength="114" lengthAdjust="spacingAndGlyphs">We find that, for each experimental case, three Gμ</text>
</g>
</g>

<!-- ============ PANEL D : annotation of page 5 ============ -->
<g id="panel-d">
<rect x="1010" y="17" width="305" height="432" fill="#000"/>
<g fill="#B0C4DE" class="ol">
<rect x="1118" y="55.9" width="20" height="5"/><rect x="1140" y="55.9" width="16" height="5"/><rect x="1158" y="55.9" width="25" height="5"/><rect x="1186" y="55.9" width="10" height="5"/><rect x="1198" y="55.9" width="29" height="5"/><rect x="1229" y="55.9" width="23" height="5"/><rect x="1254" y="55.9" width="22" height="5"/><rect x="1285" y="55.9" width="4" height="5"/>
</g>
<rect x="1032" y="69" width="271" height="153" fill="#FF00FF" stroke="#5a145a" stroke-width=".6"/>
<g class="bar G" style="stroke-width:4.1">
<path d="M1031 232H1289"/><path class="o2" d="M1031 237H1148"/>
<path class="o1" d="M1031 254.7H1154"/><path class="o3" d="M1031 259.8H1154"/><path d="M1031 265H1044"/>
<path class="o4" d="M1166 254.7H1289"/><path class="o2" d="M1166 259.8H1188"/>
</g>
<g class="bar C" style="stroke-width:4;stroke-dasharray:6 1 3 1 9 1 4 1">
<path d="M1055 273.8H1076"/><path d="M1091 273.8H1107"/><path d="M1123 273.8H1139"/>
<path d="M1056 282H1073"/><path d="M1049 287H1082"/><path d="M1050 292H1081"/><path d="M1056 297H1074"/><path d="M1055 302.4H1075"/>
<path d="M1088 282H1111"/><path d="M1088 287H1111"/><path d="M1088 292H1111"/><path d="M1088 297H1111"/><path d="M1088 302.4H1111"/>
<path d="M1120 282H1141"/><path d="M1120 287H1141"/><path d="M1120 292H1141"/><path d="M1120 297H1141"/><path d="M1120 302.4H1141"/>
<path d="M1189 268.7H1210"/><path d="M1226 268.7H1241"/><path d="M1258 268.7H1274"/>
<path d="M1190 277H1207"/><path d="M1183 282H1216"/><path d="M1184 287H1215"/><path d="M1190 292H1208"/><path d="M1189 297.4H1209"/>
<path d="M1222 277H1245"/><path d="M1222 282H1245"/><path d="M1222 287H1245"/><path d="M1222 292H1245"/><path d="M1222 297.4H1245"/>
<path d="M1255 277H1277"/><path d="M1255 282H1277"/><path d="M1255 287H1277"/><path d="M1255 292H1277"/><path d="M1255 297.4H1277"/>
</g>
<g class="bar P">
<path d="M1031 322.3H1154"/><path class="o1" d="M1031 327.94H1154"/><path class="o2" d="M1031 333.58H1154"/><path class="o3" d="M1031 339.22H1154"/><path class="o4" d="M1031 344.86H1142"/><path class="o5" d="M1040 350.5H1154"/><path class="o1" d="M1031 356.14H1154"/><path class="o3" d="M1031 361.78H1154"/><path class="o2" d="M1031 367.42H1154"/><path class="o4" d="M1031 373.06H1154"/><path class="o5" d="M1031 378.7H1154"/>
<path class="o3" d="M1040 393.3H1154"/><path class="o1" d="M1031 398.9H1154"/><path class="o4" d="M1031 404.5H1154"/><path class="o2" d="M1031 410.1H1154"/><path d="M1031 415.7H1154"/>
<path class="o2" d="M1166 314.3H1289"/><path class="o4" d="M1166 319.95H1289"/><path d="M1166 325.6H1289"/><path class="o1" d="M1166 331.25H1289"/><path class="o5" d="M1166 336.9H1289"/><path class="o3" d="M1166 342.55H1289"/><path class="o2" d="M1166 348.2H1289"/><path class="o4" d="M1166 353.85H1289"/><path class="o1" d="M1166 359.5H1289"/><path d="M1166 365.15H1289"/><path class="o5" d="M1166 370.8H1289"/><path class="o3" d="M1166 376.45H1289"/><path class="o1" d="M1166 382.1H1289"/><path class="o4" d="M1166 387.75H1289"/><path class="o2" d="M1166 393.4H1289"/><path class="o5" d="M1166 399.05H1289"/><path d="M1166 404.7H1289"/><path class="o3" d="M1166 410.35H1218"/><path class="o1" d="M1175 416H1289"/>
</g>
<g fill="#0000FF" class="ol"><rect x="1031" y="382.5" width="3" height="4.5"/><rect x="1039" y="382.5" width="34" height="4.5"/></g>
<g fill="#B0C4DE" class="ol"><rect x="1031" y="425" width="16" height="4"/><rect x="1049" y="425" width="9" height="4"/><rect x="1059" y="425" width="5" height="4"/><rect x="1067" y="425" width="12" height="4"/></g>
</g>

<!-- ============ sub-figure labels ============ -->
<g id="sublabels" class="lbl">
<text x="179" y="486">(a)</text>
<text x="506" y="486">(b)</text>
<text x="834" y="486">(c)</text>
<text x="1162" y="486">(d)</text>
</g>

<!-- ============ caption with colour legend ============ -->
<g id="caption">
<text class="cap" x="22" y="551" textLength="1153.5" lengthAdjust="spacingAndGlyphs">Figure 1: Example annotations of the DocBank. The colors of semantic structure labels are:</text>
<rect x="1188.3" y="522" width="122" height="39" fill="#FFB6C1"/>
<text class="cap" x="1196.8" y="551" textLength="105" lengthAdjust="spacingAndGlyphs">Abstract</text>
<text class="cap" x="1311.5" y="551">,</text>

<rect x="22.2" y="561" width="105.3" height="39" fill="#000080"/>
<text class="cap w" x="32.1" y="590" textLength="85.5" lengthAdjust="spacingAndGlyphs">Author</text>
<text class="cap" x="128.4" y="590">,</text>
<rect x="148.8" y="561" width="116.2" height="46" fill="#00FF00"/>
<text class="cap" x="157.9" y="590" textLength="97" lengthAdjust="spacingAndGlyphs">Caption</text>
<text class="cap" x="265.4" y="590">,</text>
<rect x="285.8" y="561" width="129.7" height="46" fill="#FF0000"/>
<text class="cap w" x="294.5" y="590" textLength="111.5" lengthAdjust="spacingAndGlyphs">Equation</text>
<text class="cap" x="417.2" y="590">,</text>
<rect x="437.2" y="561" width="98.8" height="46" fill="#FF00FF"/>
<text class="cap w" x="446.3" y="590" textLength="79" lengthAdjust="spacingAndGlyphs">Figure</text>
<text class="cap" x="537" y="590">,</text>
<text class="cap" x="565.5" y="590" textLength="79" lengthAdjust="spacingAndGlyphs">Footer</text>
<text class="cap" x="655.2" y="590">,</text>
<rect x="676" y="561" width="65.7" height="39" fill="#301F6F"/>
<text class="cap" x="685.6" y="590" textLength="47.4" lengthAdjust="spacingAndGlyphs">List</text>
<text class="cap" x="743.8" y="590">,</text>
<rect x="763" y="561" width="143.7" height="46" fill="#B0C4DE"/>
<text class="cap" x="772.7" y="590" textLength="123.3" lengthAdjust="spacingAndGlyphs">Paragraph</text>
<text class="cap" x="909.5" y="590">,</text>
<rect x="928" y="561" width="143.7" height="39" fill="#2E8B00"/>
<text class="cap" x="937.3" y="590" textLength="124.7" lengthAdjust="spacingAndGlyphs">Reference</text>
<text class="cap" x="1074" y="590">,</text>
<rect x="1093" y="561" width="110.2" height="39" fill="#0000FF"/>
<text class="cap w" x="1102.4" y="590" textLength="92.3" lengthAdjust="spacingAndGlyphs">Section</text>
<text class="cap" x="1206" y="590">,</text>
<rect x="1224.9" y="561" width="85.5" height="39" fill="#00FFFF"/>
<text class="cap" x="1234.2" y="590" textLength="67.7" lengthAdjust="spacingAndGlyphs">Table</text>
<text class="cap" x="1312" y="590">,</text>

<rect x="22.2" y="609" width="75" height="39" fill="#00BFFF"/>
<text class="cap" x="30.8" y="638" textLength="56.4" lengthAdjust="spacingAndGlyphs">Title</text>
</g>
</svg>
